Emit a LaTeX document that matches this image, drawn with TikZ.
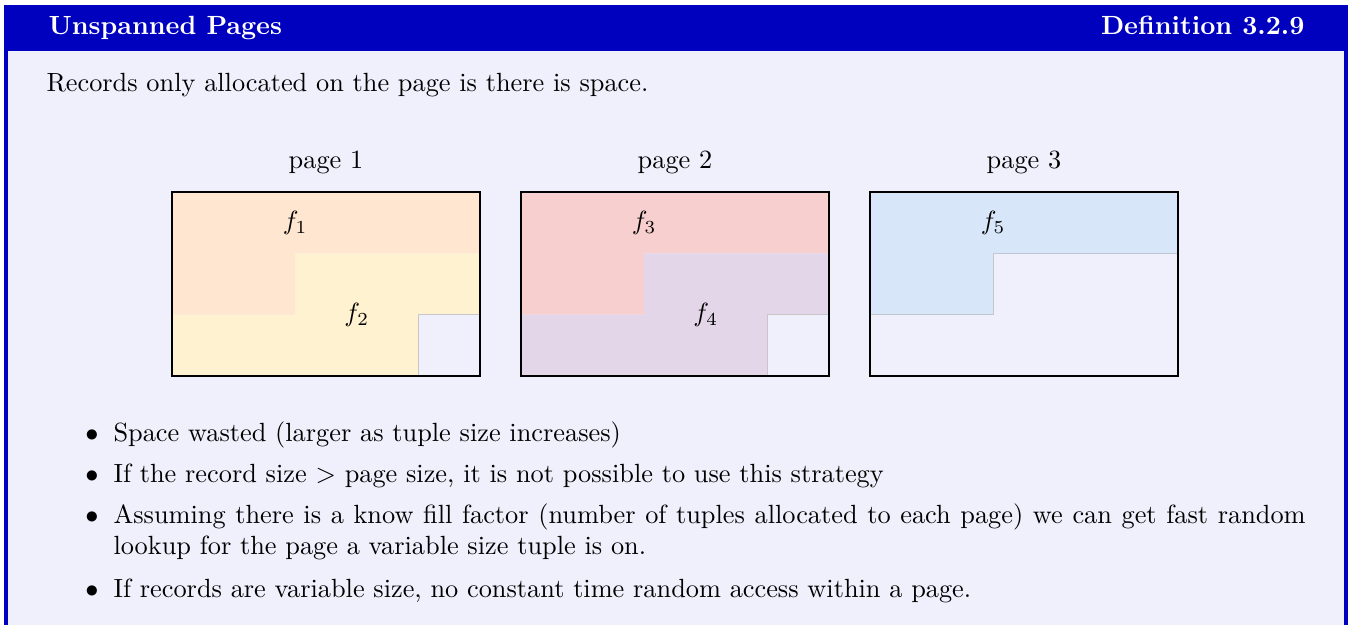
\documentclass[tikz,border=0pt]{standalone}
\usepackage{tikz}
\usetikzlibrary{positioning,calc}
\definecolor{framebl}{HTML}{0000BF}
\definecolor{backbl} {HTML}{F0F0FC}
\definecolor{peach}  {HTML}{FFE6D0}
\definecolor{cream}  {HTML}{FFF2D0}
\definecolor{rose}   {HTML}{F7CFCF}
\definecolor{lilac}  {HTML}{E2D6E8}
\definecolor{sky}    {HTML}{D7E6F8}
\colorlet{cellline}{black!22}
\colorlet{skyline}{sky!70!black!60}
\tikzset{
  every node/.style={font=\normalsize},
  % --- text
  title/.style = {font=\bfseries, text=white, anchor=base west, inner sep=0pt},
  body/.style  = {anchor=base west, inner sep=0pt, align=left},
  pglbl/.style = {anchor=base, inner sep=0pt},
  bul/.style   = {anchor=base, inner sep=0pt},
  rec/.style   = {inner sep=0pt},
  % --- pages
  frm/.style   = {draw=black, line width=0.8pt, minimum width=117pt,
                  minimum height=69.9pt, inner sep=0pt},
}
\begin{document}
\begin{tikzpicture}[x=0.38pt,y=-0.38pt]
  \useasboundingbox (0,0) rectangle (1348,625);
  % box and title bar
  \fill[framebl] (4,5) rectangle (1348,625);
  \fill[backbl] (8,51) rectangle (1344,625);
  \node[title] (ttl) at (48,34) {Unspanned Pages};
  \node[title, anchor=base east] (defn) at (1305,34) {Definition 3.2.9};
  \node[body] (intro) at (46,91) {Records only allocated on the page is there is space.};
  % pages 1 and 2: two records each, 5x3 cells
  \foreach \xo/\ca/\cb/\na/\nb in {172/peach/cream/1/2, 521/rose/lilac/3/4}{
    \begin{scope}[shift={(\xo,192)},x=23.4pt,y=-23.3pt]
      \fill[\ca] (0,0) -- (5,0) -- (5,1) -- (2,1) -- (2,2) -- (0,2) -- cycle;
      \fill[\cb] (2,1) -- (5,1) -- (5,2) -- (4,2) -- (4,3) -- (0,3) -- (0,2) -- (2,2) -- cycle;
      \draw[cellline, line width=0.3pt] (4,3) -- (4,2) -- (5,2);
      \node[rec] (f\na) at (2,0.5) {$f_{\na}$};
      \node[rec] (f\nb) at (3,2) {$f_{\nb}$};
    \end{scope}
  }
  % page 3: one record
  \begin{scope}[shift={(870,192)},x=23.4pt,y=-23.3pt]
    \fill[sky] (0,0) -- (5,0) -- (5,1) -- (2,1) -- (2,2) -- (0,2) -- cycle;
    \draw[skyline, line width=0.3pt] (0,2) -- (2,2) -- (2,1) -- (5,1);
    \node[rec] (f5) at (2,0.5) {$f_{5}$};
  \end{scope}
  \foreach \p/\xc in {1/326,2/675,3/1024}{
    \node[frm] (pg\p) at (\xc,284) {};
    \node[pglbl] (lbl\p) at (\xc,168) {page \p};
  }
  % bullets
  \foreach \i/\yb in {1/441,2/482,3/523,4/597}{
    \node[bul] (b\i) at (92,\yb) {$\bullet$};
  }
  \node[body] (it1) at (113,441) {Space wasted (larger as tuple size increases)};
  \node[body] (it2) at (113,482) {If the record size $>$ page size, it is not possible to use this strategy};
  \node[body, text width=453pt, align=justify] (it3) at (113,523)
    {Assuming there is a know fill factor (number of tuples allocated to each page) we can get fast random lookup for the page a variable size tuple is on.};
  \node[body] (it4) at (113,597) {If records are variable size, no constant time random access within a page.};
\end{tikzpicture}
\end{document}
